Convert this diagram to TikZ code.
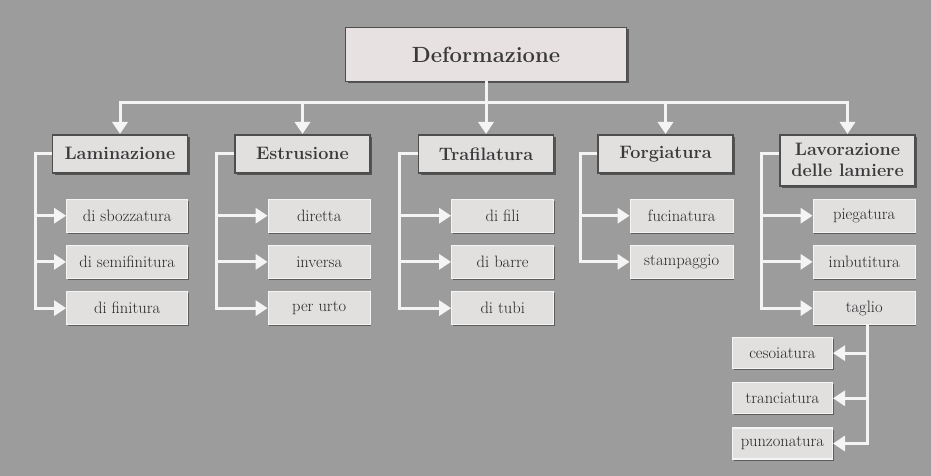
\documentclass[tikz,border=0pt]{standalone}
\usetikzlibrary{arrows.meta,positioning,shadows}
\definecolor{bgray}{HTML}{9C9C9C}
\definecolor{boxfill}{HTML}{E2DFDF}
\definecolor{rootfill}{HTML}{E8E1E1}
\definecolor{rimdark}{HTML}{4E4E4E}
\definecolor{inkgray}{HTML}{3A3A3A}
\definecolor{wireclr}{HTML}{F4F4F4}
\tikzset{
  box/.style={fill=boxfill, text=inkgray, align=center, inner sep=0pt},
  rootbox/.style={box, fill=rootfill, draw=rimdark, line width=1.8pt,
                  minimum width=281pt, minimum height=54pt,
                  font=\fontsize{22}{26}\selectfont\bfseries,
                  drop shadow={shadow xshift=2pt, shadow yshift=-2pt, opacity=0.45, fill=black}},
  groupbox/.style={box, draw=rimdark, line width=1.6pt, anchor=north,
                   minimum width=135pt, minimum height=38pt,
                   font=\fontsize{18}{21}\selectfont\bfseries,
                   drop shadow={shadow xshift=2pt, shadow yshift=-2pt, opacity=0.45, fill=black}},
  leafbox/.style={box, draw=white!65!boxfill, line width=1.2pt, text=black!85,
                  minimum width=102pt, minimum height=33pt,
                  font=\fontsize{16.5}{19}\selectfont,
                  drop shadow={shadow xshift=1.2pt, shadow yshift=-1.5pt, opacity=0.4, fill=black}},
  wire/.style={draw=wireclr, line width=3pt, line cap=rect},
  arrow/.style={draw=wireclr, line width=3pt,
                -{Triangle[length=12pt,width=15pt,fill=wireclr]}}
}

\begin{document}
\begin{tikzpicture}[x=1pt, y=-1pt, node distance=12pt]
  \fill[bgray] (0,0) rectangle (931,476);
  \coordinate (bus) at (0,103);
  % top level
  \node[rootbox] (def) at (486,54.5) {Deformazione};
  \node[groupbox] (lam) at (120,134) {Laminazione};
  \node[groupbox] (est) at (302.5,134) {Estrusione};
  \node[groupbox] (tra) at (486,134) {Trafilatura};
  \node[groupbox] (for) at (665.5,134) {Forgiatura};
  \node[groupbox, minimum height=51pt] (lav) at (847.5,134) {Lavorazione\\delle lamiere};
  % processes
  \node[leafbox, minimum width=121pt, below=25pt of lam.south east, anchor=north east] (lam1) {di sbozzatura};
  \node[leafbox, minimum width=121pt, below=of lam1] (lam2) {di semifinitura};
  \node[leafbox, minimum width=121pt, below=of lam2] (lam3) {di finitura};
  \node[leafbox, below=25pt of est.south east, anchor=north east] (est1) {diretta};
  \node[leafbox, below=of est1] (est2) {inversa};
  \node[leafbox, below=of est2] (est3) {per urto};
  \node[leafbox, below=25pt of tra.south east, anchor=north east] (tra1) {di fili};
  \node[leafbox, below=of tra1] (tra2) {di barre};
  \node[leafbox, below=of tra2] (tra3) {di tubi};
  \node[leafbox, minimum width=103pt, below=25pt of for.south east, anchor=north east] (for1) {fucinatura};
  \node[leafbox, minimum width=103pt, below=of for1] (for2) {stampaggio};
  \node[leafbox, below=of lav.south east, anchor=north east] (lav1) {piegatura};
  \node[leafbox, below=of lav1] (lav2) {imbutitura};
  \node[leafbox, below=of lav2] (lav3) {taglio};
  % taglio
  \node[leafbox, minimum width=100pt, minimum height=31pt, anchor=north east] (tag1) at (833,337) {cesoiatura};
  \node[leafbox, minimum width=100pt, minimum height=31pt, below=13pt of tag1] (tag2) {tranciatura};
  \node[leafbox, minimum width=100pt, minimum height=31pt, below=13pt of tag2] (tag3) {punzonatura};
  % connectors
  \draw[wire] (def.south) -- (def.south |- bus);
  \draw[wire] (lam.north |- bus) -- (lav.north |- bus);
  \draw[arrow] (lam.north |- bus) -- (lam.north);
  \draw[arrow] (est.north |- bus) -- (est.north);
  \draw[arrow] (tra.north |- bus) -- (tra.north);
  \draw[arrow] (for.north |- bus) -- (for.north);
  \draw[arrow] (lav.north |- bus) -- (lav.north);
  \draw[arrow] (lam.west) -- ++(-16,0) |- (lam1.west);
  \draw[arrow] (lam.west) -- ++(-16,0) |- (lam2.west);
  \draw[arrow] (lam.west) -- ++(-16,0) |- (lam3.west);
  \draw[arrow] (est.west) -- ++(-18,0) |- (est1.west);
  \draw[arrow] (est.west) -- ++(-18,0) |- (est2.west);
  \draw[arrow] (est.west) -- ++(-18,0) |- (est3.west);
  \draw[arrow] (tra.west) -- ++(-18,0) |- (tra1.west);
  \draw[arrow] (tra.west) -- ++(-18,0) |- (tra2.west);
  \draw[arrow] (tra.west) -- ++(-18,0) |- (tra3.west);
  \draw[arrow] (for.west) -- ++(-17,0) |- (for1.west);
  \draw[arrow] (for.west) -- ++(-17,0) |- (for2.west);
  \draw[arrow] (lam.west -| lav.west) -- ++(-18,0) |- (lav1.west);
  \draw[arrow] (lam.west -| lav.west) -- ++(-18,0) |- (lav2.west);
  \draw[arrow] (lam.west -| lav.west) -- ++(-18,0) |- (lav3.west);
  \draw[arrow] ([xshift=3pt]lav3.south) |- (tag1.east);
  \draw[arrow] ([xshift=3pt]lav3.south) |- (tag2.east);
  \draw[arrow] ([xshift=3pt]lav3.south) |- (tag3.east);
\end{tikzpicture}
\end{document}
